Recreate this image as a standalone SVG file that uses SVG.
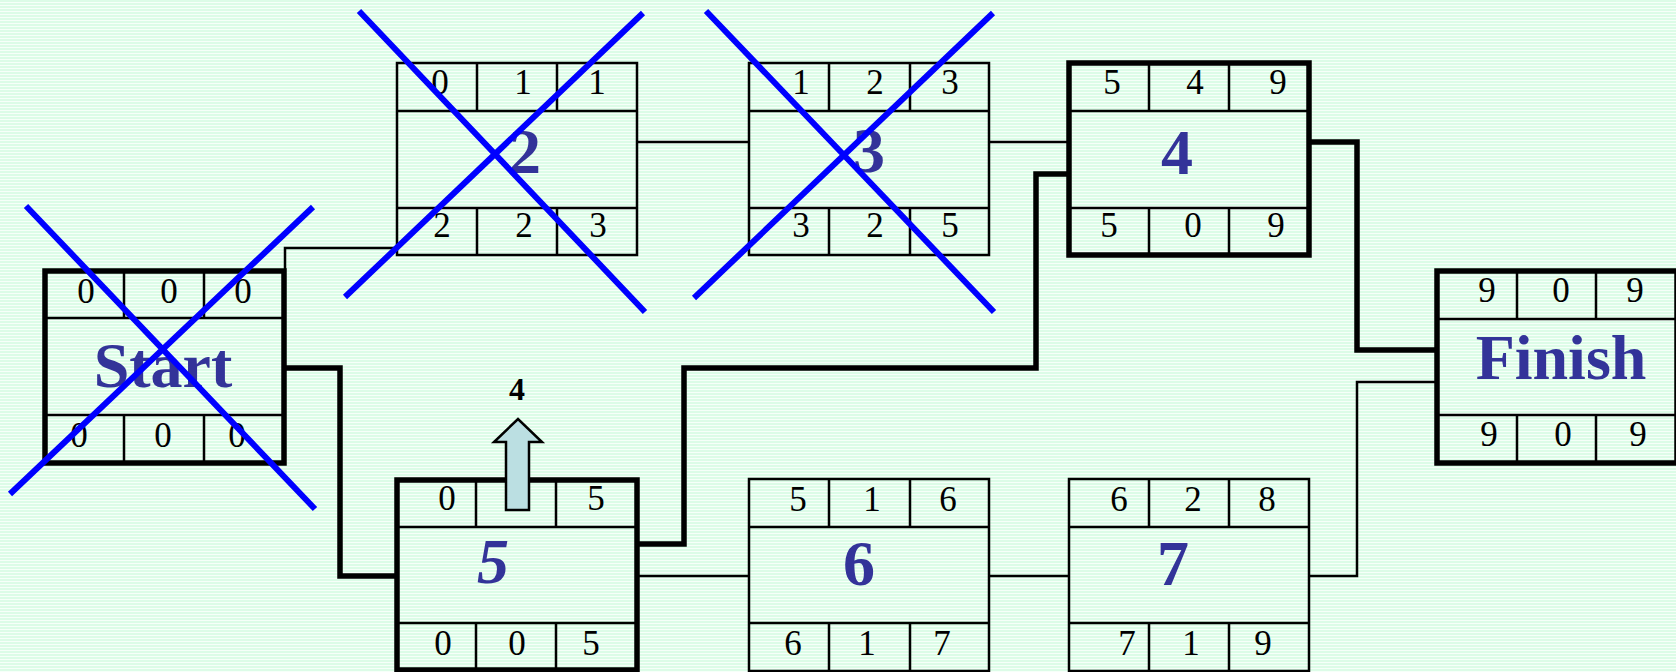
<svg xmlns="http://www.w3.org/2000/svg" width="1676" height="672" viewBox="0 0 1676 672">
  <defs>
    <pattern id="bg" x="0" y="0" width="8" height="3" patternUnits="userSpaceOnUse">
      <rect x="0" y="0" width="8" height="3" fill="#f6fff9"/>
      <rect x="0" y="0" width="8" height="2" fill="#dcfce7"/>
    </pattern>
    <style>
      .thin { fill: none; stroke: #000; stroke-width: 2.5; }
      .thick { fill: none; stroke: #000; stroke-width: 5.5; }
      .div { fill: none; stroke: #000; stroke-width: 2.5; }
      .conn-thin { fill: none; stroke: #000; stroke-width: 2.5; }
      .conn-thick { fill: none; stroke: #000; stroke-width: 5.5; stroke-linejoin: miter; }
      .num { font-family: "Liberation Serif", "Times New Roman", serif; font-size: 35px; fill: #000; text-anchor: middle; }
      .lbl { font-family: "Liberation Serif", "Times New Roman", serif; font-size: 64px; font-weight: bold; fill: #333399; text-anchor: middle; }
      .x { stroke: #0000ff; stroke-width: 6; fill: none; }
      .ann { font-family: "Liberation Serif", "Times New Roman", serif; font-size: 32px; font-weight: bold; fill: #000; text-anchor: middle; }
    </style>
  </defs>
  <rect x="0" y="0" width="1676" height="672" fill="url(#bg)"/>

  <g id="connectors">
    <path class="conn-thin" d="M285 269 V248 H397"/>
    <path class="conn-thick" d="M286 368 H340 V576 H397"/>
    <path class="conn-thin" d="M637 142 H749"/>
    <path class="conn-thin" d="M989 142 H1069"/>
    <path class="conn-thick" d="M637 544 H684 V368 H1036 V174 H1069"/>
    <path class="conn-thin" d="M637 576 H749"/>
    <path class="conn-thin" d="M989 576 H1069"/>
    <path class="conn-thick" d="M1309 142 H1357 V350 H1437"/>
    <path class="conn-thin" d="M1309 576 H1357 V382 H1437"/>
  </g>

  <g id="node-start">
    <path class="div" d="M45 318 H284 M45 415 H284 M124 271 V318 M204 271 V318 M124 415 V463 M204 415 V463"/>
    <rect class="thick" x="45" y="271" width="239" height="192"/>
    <text class="num" x="86" y="303">0</text>
    <text class="num" x="169" y="303">0</text>
    <text class="num" x="243" y="303">0</text>
    <text class="num" x="79" y="447">0</text>
    <text class="num" x="163" y="447">0</text>
    <text class="num" x="237" y="447">0</text>
    <text class="lbl" x="163" y="387">Start</text>
    <path class="x" d="M26 206 L315 509 M313 207 L10 494"/>
  </g>

  <g id="node-2">
    <rect class="thin" x="397" y="63" width="240" height="192"/>
    <path class="div" d="M397 111 H637 M397 208 H637 M477 63 V111 M557 63 V111 M477 208 V255 M557 208 V255"/>
    <text class="num" x="440" y="94">0</text>
    <text class="num" x="523" y="94">1</text>
    <text class="num" x="597" y="94">1</text>
    <text class="num" x="442" y="237">2</text>
    <text class="num" x="524" y="237">2</text>
    <text class="num" x="598" y="237">3</text>
    <text class="lbl" x="525" y="173">2</text>
    <path class="x" d="M359 11 L645 312 M643 13 L345 297"/>
  </g>

  <g id="node-3">
    <rect class="thin" x="749" y="63" width="240" height="192"/>
    <path class="div" d="M749 111 H989 M749 208 H989 M829 63 V111 M910 63 V111 M829 208 V255 M910 208 V255"/>
    <text class="num" x="801" y="94">1</text>
    <text class="num" x="875" y="94">2</text>
    <text class="num" x="950" y="94">3</text>
    <text class="num" x="801" y="237">3</text>
    <text class="num" x="875" y="237">2</text>
    <text class="num" x="950" y="237">5</text>
    <text class="lbl" x="869" y="172">3</text>
    <path class="x" d="M706 11 L994 312 M993 13 L694 298"/>
  </g>

  <g id="node-4">
    <path class="div" d="M1069 111 H1309 M1069 208 H1309 M1149 63 V111 M1229 63 V111 M1149 208 V255 M1229 208 V255"/>
    <rect class="thick" x="1069" y="63" width="240" height="192"/>
    <text class="num" x="1112" y="94">5</text>
    <text class="num" x="1195" y="94">4</text>
    <text class="num" x="1278" y="94">9</text>
    <text class="num" x="1109" y="237">5</text>
    <text class="num" x="1193" y="237">0</text>
    <text class="num" x="1276" y="237">9</text>
    <text class="lbl" x="1177" y="174">4</text>
  </g>

  <g id="node-5">
    <path class="div" d="M397 527 H637 M397 623 H637 M476 480 V527 M556 480 V527 M476 623 V670 M556 623 V670"/>
    <rect class="thick" x="397" y="480" width="240" height="190"/>
    <text class="num" x="447" y="510">0</text>
    <text class="num" x="517" y="510">0</text>
    <text class="num" x="596" y="510">5</text>
    <text class="num" x="443" y="655">0</text>
    <text class="num" x="517" y="655">0</text>
    <text class="num" x="591" y="655">5</text>
    <text class="lbl" x="493" y="583" font-style="italic">5</text>
    <polygon points="506,510 506,442 494,442 518,419 542,442 529,442 529,510" fill="#bbdfe2" stroke="#000" stroke-width="2.5"/>
    <text class="ann" x="517" y="400">4</text>
  </g>

  <g id="node-6">
    <rect class="thin" x="749" y="479" width="240" height="192"/>
    <path class="div" d="M749 527 H989 M749 623 H989 M829 479 V527 M910 479 V527 M829 623 V671 M910 623 V671"/>
    <text class="num" x="798" y="511">5</text>
    <text class="num" x="872" y="511">1</text>
    <text class="num" x="948" y="511">6</text>
    <text class="num" x="793" y="655">6</text>
    <text class="num" x="867" y="655">1</text>
    <text class="num" x="942" y="655">7</text>
    <text class="lbl" x="859" y="585">6</text>
  </g>

  <g id="node-7">
    <rect class="thin" x="1069" y="479" width="240" height="192"/>
    <path class="div" d="M1069 527 H1309 M1069 623 H1309 M1149 479 V527 M1229 479 V527 M1149 623 V671 M1229 623 V671"/>
    <text class="num" x="1119" y="511">6</text>
    <text class="num" x="1193" y="511">2</text>
    <text class="num" x="1267" y="511">8</text>
    <text class="num" x="1127" y="655">7</text>
    <text class="num" x="1191" y="655">1</text>
    <text class="num" x="1263" y="655">9</text>
    <text class="lbl" x="1173" y="585">7</text>
  </g>

  <g id="node-finish">
    <path class="div" d="M1437 319 H1677 M1437 415 H1677 M1517 271 V319 M1596 271 V319 M1517 415 V463 M1596 415 V463"/>
    <rect class="thick" x="1437" y="271" width="240" height="192"/>
    <text class="num" x="1487" y="302">9</text>
    <text class="num" x="1561" y="302">0</text>
    <text class="num" x="1635" y="302">9</text>
    <text class="num" x="1489" y="446">9</text>
    <text class="num" x="1563" y="446">0</text>
    <text class="num" x="1638" y="446">9</text>
    <text class="lbl" x="1561" y="379">Finish</text>
  </g>
</svg>
